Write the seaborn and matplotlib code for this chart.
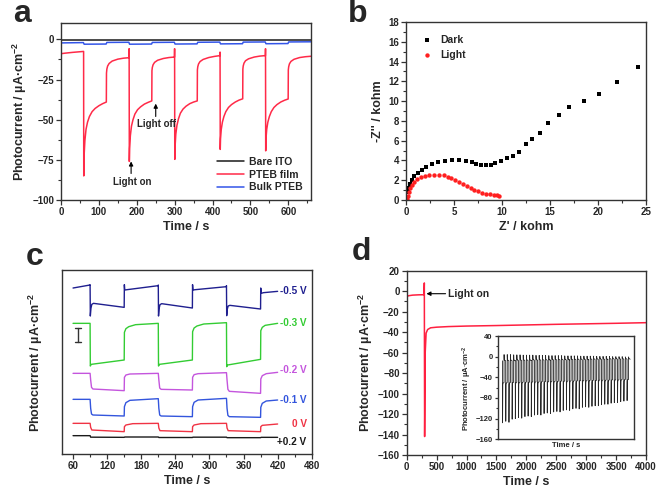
import matplotlib
matplotlib.use("Agg")
import matplotlib.pyplot as plt
import seaborn as sns
import pandas as pd
from matplotlib.ticker import MultipleLocator, NullLocator

# ---------------- data: panel a (photocurrent vs time) ----------------
a_ito = [(0, -0.3), (660, -0.3)]
a_bulk = [(0, -2.2), (59, -2.0), (61, -3.0), (119, -2.9), (121, -1.9), (179, -1.8),
          (181, -3.0), (239, -2.9), (241, -1.9), (299, -1.8), (301, -2.9), (359, -2.8),
          (361, -1.8), (419, -1.7), (421, -2.8), (479, -2.7), (481, -1.7), (539, -1.6),
          (541, -2.7), (599, -2.6), (601, -1.6), (660, -1.5)]
a_film = [
    (0, -8.9), (10, -8.6), (30, -8.1), (59.6, -7.5),
    (60, -85), (61, -72), (63, -63), (66, -56), (70, -51.5), (75, -48), (82, -45),
    (90, -43), (100, -41.3), (110, -40), (119.6, -39),
    (120, -21), (121, -18.5), (123, -16.6), (127, -15), (135, -13.5), (150, -12.3),
    (165, -11.7), (179.5, -11.4),
    (179.8, -5.8), (180.3, -76), (181, -68), (183, -60), (186, -54), (190, -50),
    (195, -46.5), (202, -43.8), (210, -42), (220, -40.3), (230, -39.2), (239.6, -38.3),
    (240, -19.5), (241, -17.5), (243, -15.8), (247, -14.3), (255, -13), (270, -11.9),
    (285, -11.3), (299.5, -11),
    (299.8, -5.8), (300.3, -74.7), (301, -67), (303, -59), (306, -53.5), (310, -49.5),
    (315, -46), (322, -43.4), (330, -41.6), (340, -40), (350, -39), (359.6, -38.3),
    (360, -19), (361, -17), (363, -15.3), (367, -13.8), (375, -12.5), (390, -11.3),
    (405, -10.6), (419.5, -10.1),
    (419.8, -7.9), (420.3, -68.5), (421, -62), (423, -56), (426, -51.5), (430, -48),
    (435, -45), (442, -42.4), (450, -40.6), (460, -39), (470, -37.8), (479.6, -37),
    (480, -18.5), (481, -16.5), (483, -14.8), (487, -13.3), (495, -12.1), (510, -11),
    (525, -10.4), (539.5, -10.1),
    (539.8, -5.8), (540.3, -69.4), (541, -62), (543, -56), (546, -51.5), (550, -48),
    (555, -45), (562, -42.4), (570, -40.6), (580, -39), (590, -37.9), (599.6, -37.1),
    (600, -19), (601, -17), (603, -15.2), (607, -13.7), (615, -12.4), (630, -11.3),
    (645, -10.8), (660, -10.5),
]
a_labels = ["Bare ITO", "PTEB film", "Bulk PTEB"]

# ---------------- data: panel b (Nyquist plot) ----------------
b_dark_x = [0.1, 0.15, 0.25, 0.4, 0.6, 0.85, 1.2, 1.6, 2.1, 2.7, 3.3, 4.0, 4.8, 5.5,
            6.2, 6.8, 7.3, 7.8, 8.3, 8.8, 9.3, 9.9, 10.5, 11.1, 11.8, 12.5, 13.1, 13.9,
            14.8, 15.9, 17.0, 18.5, 20.1, 22.0, 24.2]
b_dark_y = [0.3, 0.8, 1.2, 1.6, 2.0, 2.4, 2.75, 3.05, 3.35, 3.6, 3.8, 3.95, 4.05, 4.05,
            3.95, 3.8, 3.65, 3.55, 3.5, 3.55, 3.7, 3.9, 4.2, 4.5, 4.9, 5.65, 6.2, 6.8,
            7.75, 8.6, 9.45, 10.0, 10.7, 11.95, 13.5]
b_light_x = [0.1, 0.15, 0.25, 0.4, 0.6, 0.85, 1.15, 1.5, 1.9, 2.4, 2.9, 3.4, 3.9, 4.3,
             4.7, 5.1, 5.5, 5.9, 6.3, 6.7, 7.1, 7.5, 7.9, 8.3, 8.7, 9.1, 9.5, 9.7]
b_light_y = [0.1, 0.4, 0.8, 1.2, 1.55, 1.85, 2.1, 2.3, 2.45, 2.55, 2.58, 2.55, 2.48,
             2.35, 2.2, 2.0, 1.8, 1.6, 1.4, 1.2, 1.05, 0.9, 0.75, 0.65, 0.6, 0.55, 0.5, 0.45]

# ---------------- data: panel c (bias series, arbitrary offset units) ----------------
c_m05 = [(60, 48.6), (89.7, 49.5), (90, 49.6), (90.4, 40.2), (91.5, 42.5), (93, 43.7),
         (96, 44.0), (150, 42.8), (150.3, 49.6), (151, 48.0), (155, 48.1), (209.7, 49.3),
         (210, 49.5), (210.4, 40.2), (211.5, 42.5), (213, 43.6), (216, 43.9), (270, 42.6),
         (270.3, 49.6), (271, 48.0), (275, 48.1), (329.7, 49.0), (330, 49.3),
         (330.4, 40.3), (331.5, 42.3), (333, 43.2), (336, 43.4), (390, 42.3),
         (390.3, 48.6), (391, 47.0), (395, 47.2), (420, 47.6)]
c_m03 = [(60, 38.0), (90, 38.0), (90.4, 25.2), (92, 25.7), (150, 27.0), (150.4, 35.3),
         (153, 36.4), (158, 37.0), (170, 37.6), (210, 38.0), (210.4, 25.2), (212, 25.7),
         (270, 27.0), (270.4, 35.5), (273, 36.6), (278, 37.2), (290, 37.8), (330, 38.2),
         (330.4, 25.0), (332, 25.5), (390, 27.2), (390.4, 35.8), (393, 36.8), (398, 37.4),
         (420, 38.0)]
c_m02 = [(60, 23.0), (90, 23.0), (91, 21.0), (92.5, 18.8), (95, 18.3), (150, 17.8),
         (150.4, 21.8), (153, 22.5), (160, 22.8), (210, 23.0), (211, 21.0), (212.5, 18.6),
         (215, 18.2), (270, 18.0), (270.4, 21.8), (273, 22.6), (280, 22.9), (330, 23.2),
         (331, 21.0), (332.5, 18.2), (335, 17.6), (390, 17.0), (390.4, 21.3), (393, 22.3),
         (400, 22.9), (420, 23.3)]
c_m01 = [(60, 15.2), (90, 15.2), (91, 12.5), (92.5, 10.8), (95, 10.5), (150, 10.2),
         (150.4, 13.0), (153, 14.2), (160, 14.9), (210, 15.4), (211, 12.5), (212.5, 10.5),
         (215, 10.2), (270, 10.0), (270.4, 13.0), (273, 14.3), (280, 15.0), (330, 15.5),
         (331, 12.5), (332.5, 10.4), (335, 10.0), (390, 9.8), (390.4, 12.8), (393, 14.0),
         (400, 14.7), (420, 15.0)]
c_0 = [(60, 8.0), (90, 8.0), (91, 6.8), (93, 6.0), (150, 5.5), (150.4, 7.0), (153, 7.5),
       (165, 7.9), (210, 8.0), (211, 6.6), (213, 5.8), (270, 5.5), (270.4, 7.0), (273, 7.5),
       (285, 7.9), (330, 8.0), (331, 6.6), (333, 5.8), (390, 5.5), (390.4, 7.0), (393, 7.4),
       (420, 7.8)]
c_p02 = [(60, 4.3), (90, 4.3), (91, 3.85), (150, 3.8), (151, 3.9), (210, 3.9), (211, 3.75),
         (270, 3.75), (271, 3.85), (330, 3.85), (331, 3.7), (390, 3.7), (391, 3.8), (420, 3.8)]
c_labels = ["-0.5 V", "-0.3 V", "-0.2 V", "-0.1 V", "0 V", "+0.2 V"]
c_label_y = [47.7, 38.2, 24.0, 15.0, 7.8, 2.3]

# ---------------- data: panel d (long-term photocurrent) ----------------
d_main = [(0, -5.5), (30, -4.5), (100, -3.9), (200, -3.6), (290, -3.5), (295, 8), (300, -142),
          (310, -60), (325, -41), (350, -37.5), (400, -35.8), (500, -35.2), (700, -34.6),
          (1000, -34.1), (1500, -33.6), (2000, -33.0), (2500, -32.4), (3000, -31.9),
          (3500, -31.4), (4000, -30.8)]
# inset: one entry per light on/off cycle
d_in_on_spike = [-128, -125, -127, -121, -120, -118, -119, -116, -115, -116, -113, -112,
                 -113, -110, -109, -110, -107, -106, -107, -104, -103, -104, -101, -100,
                 -101, -98, -97, -98, -96, -95, -95, -93, -92, -92, -90, -89, -89, -87, -86, -85]
d_in_plateau = [-50, -50, -50, -49.5, -49.5, -49.5, -49, -49, -49, -48.5, -48.5, -48.5,
                -48, -48, -48, -47.5, -47.5, -47.5, -47, -47, -47, -46.5, -46.5, -46.5,
                -46, -46, -46, -45.5, -45.5, -45.5, -45, -45, -45, -45, -44.5, -44.5,
                -44.5, -44, -44, -44]
d_in_off_spike = [4, 4, 4, 3.5, 3.5, 3.5, 3, 3, 3, 3, 2.5, 2.5, 2.5, 2.5, 2, 2, 2, 2, 2,
                  1.5, 1.5, 1.5, 1.5, 1.5, 1, 1, 1, 1, 1, 0.5, 0.5, 0.5, 0.5, 0.5, 0, 0,
                  0, 0, -0.5, -0.5]
d_in_dark = [-8, -8, -8, -8, -7.5, -7.5, -7.5, -7.5, -7.5, -7, -7, -7, -7, -7, -7, -6.5,
             -6.5, -6.5, -6.5, -6.5, -6.5, -6, -6, -6, -6, -6, -6, -5.5, -5.5, -5.5, -5.5,
             -5.5, -5.5, -5, -5, -5, -5, -5, -5, -5]

# ---------------- style ----------------
sns.set_style("ticks")
plt.rcParams["font.family"] = ["Liberation Sans", "DejaVu Sans"]
plt.rcParams["font.weight"] = "bold"
plt.rcParams["axes.labelweight"] = "bold"
plt.rcParams["mathtext.fontset"] = "custom"
plt.rcParams["mathtext.rm"] = "Liberation Sans:bold"
plt.rcParams["mathtext.bf"] = "Liberation Sans:bold"
plt.rcParams["mathtext.default"] = "rm"

FS_TICK = 7
FS_LAB = 9
YLAB = "Photocurrent / µA·cm$^{-2}$"
SPINE = "#333333"
ARROW = dict(arrowstyle="-|>", color="black", lw=0.8, mutation_scale=6,
             shrinkA=0, shrinkB=0)

fig = plt.figure(figsize=(6.59, 4.93), dpi=100)


def style_axes(ax, fs=FS_TICK):
    for s in ax.spines.values():
        s.set_linewidth(1.0)
        s.set_color(SPINE)
        s.set_visible(True)
    ax.tick_params(which="major", direction="out", length=3.5, width=0.9,
                   labelsize=fs, pad=1.5, color=SPINE)
    ax.tick_params(which="minor", direction="out", length=2, width=0.8, color=SPINE)


def to_df(pairs):
    return pd.DataFrame(pairs, columns=["t", "y"])


# ---- panel a
axa = fig.add_axes([0.0926, 0.5943, 0.3794, 0.3584])
for pairs, col, lab in [(a_ito, "#1a1a1a", a_labels[0]), (a_film, "#ff2a48", a_labels[1]),
                        (a_bulk, "#3355e8", a_labels[2])]:
    sns.lineplot(data=to_df(pairs), x="t", y="y", ax=axa, color=col, lw=1.1,
                 sort=False, estimator=None, label=lab)
axa.set_xlim(0, 660)
axa.set_ylim(-100, 10)
axa.xaxis.set_major_locator(MultipleLocator(100))
axa.xaxis.set_minor_locator(MultipleLocator(50))
axa.yaxis.set_major_locator(MultipleLocator(25))
axa.yaxis.set_minor_locator(MultipleLocator(12.5))
axa.set_xlabel("Time / s", fontsize=FS_LAB, labelpad=3)
axa.set_ylabel(YLAB, fontsize=FS_LAB, labelpad=2)
style_axes(axa)
axa.legend(loc="lower right", frameon=False, fontsize=7.5, handlelength=2.6,
           handletextpad=0.5, labelspacing=0.25, borderaxespad=0.35)
axa.annotate("", xy=(185, -76), xytext=(185, -83.5), arrowprops=ARROW)
axa.text(188, -89, "Light on", ha="center", va="center", fontsize=7, fontweight="bold")
axa.annotate("", xy=(250, -40), xytext=(250, -48), arrowprops=ARROW)
axa.text(252, -52.5, "Light off", ha="center", va="center", fontsize=7, fontweight="bold")

# ---- panel b
axb = fig.add_axes([0.6166, 0.5943, 0.3637, 0.361])
sns.scatterplot(x=b_dark_x, y=b_dark_y, ax=axb, marker="s", color="black", s=11,
                linewidth=0, label="Dark")
sns.scatterplot(x=b_light_x, y=b_light_y, ax=axb, marker="o", color="#ff2020", s=10,
                linewidth=0, label="Light")
axb.set_xlim(0, 25)
axb.set_ylim(0, 18)
axb.xaxis.set_major_locator(MultipleLocator(5))
axb.xaxis.set_minor_locator(MultipleLocator(2.5))
axb.yaxis.set_major_locator(MultipleLocator(2))
axb.yaxis.set_minor_locator(MultipleLocator(1))
axb.set_xlabel("Z' / kohm", fontsize=FS_LAB, labelpad=3)
axb.set_ylabel("-Z'' / kohm", fontsize=FS_LAB, labelpad=3)
style_axes(axb)
axb.legend(loc="upper left", frameon=False, fontsize=7.5, handletextpad=0.6,
           labelspacing=0.5, borderaxespad=0.8, markerscale=1.0, handlelength=1.5)

# ---- panel c
axc = fig.add_axes([0.0936, 0.0791, 0.3794, 0.3732])
c_series = [c_m05, c_m03, c_m02, c_m01, c_0, c_p02]
c_colors = ["#1f1f8f", "#33cc33", "#c455dd", "#3355dd", "#f03344", "#1a1a1a"]
for pairs, col in zip(c_series, c_colors):
    sns.lineplot(data=to_df(pairs), x="t", y="y", ax=axc, color=col, lw=1.0,
                 sort=False, estimator=None)
for lab, yy, col in zip(c_labels, c_label_y, c_colors):
    axc.text(471, yy, lab, ha="right", va="center", color=col, fontsize=7.2,
             fontweight="bold")
# scale bar
axc.plot([68.8, 68.8], [32.5, 36.5], color="#333333", lw=1.0)
axc.plot([63.5, 74], [36.5, 36.5], color="#333333", lw=1.0)
axc.plot([63.5, 74], [32.5, 32.5], color="#333333", lw=1.0)
axc.set_xlim(40, 480)
axc.set_ylim(-1.2, 54)
axc.xaxis.set_major_locator(MultipleLocator(60))
axc.xaxis.set_minor_locator(MultipleLocator(30))
axc.yaxis.set_major_locator(NullLocator())
axc.set_xlabel("Time / s", fontsize=FS_LAB, labelpad=3)
axc.set_ylabel(YLAB, fontsize=FS_LAB, labelpad=12)
style_axes(axc)

# ---- panel d
axd = fig.add_axes([0.6171, 0.0771, 0.3632, 0.3739])
sns.lineplot(data=to_df(d_main), x="t", y="y", ax=axd, color="#ff2040", lw=1.1,
             sort=False, estimator=None)
axd.set_xlim(0, 4000)
axd.set_ylim(-160, 20)
axd.xaxis.set_major_locator(MultipleLocator(500))
axd.xaxis.set_minor_locator(MultipleLocator(250))
axd.yaxis.set_major_locator(MultipleLocator(20))
axd.yaxis.set_minor_locator(MultipleLocator(10))
axd.set_xlabel("Time / s", fontsize=FS_LAB, labelpad=3)
axd.set_ylabel(YLAB, fontsize=FS_LAB, labelpad=2)
style_axes(axd)
axd.annotate("", xy=(330, -2.5), xytext=(650, -2.5), arrowprops=ARROW)
axd.text(690, -2.5, "Light on", ha="left", va="center", fontsize=7.5, fontweight="bold")

# inset
axi = fig.add_axes([0.7562, 0.1089, 0.2059, 0.2095])
in_t, in_y = [0.0], [d_in_dark[0]]
for i in range(len(d_in_on_spike)):
    in_t += [i, i + 0.03, i + 0.1, i + 0.2, i + 0.48, i + 0.5, i + 0.55, i + 0.98]
    in_y += [d_in_dark[i], d_in_on_spike[i], d_in_plateau[i] - 4, d_in_plateau[i] - 1,
             d_in_plateau[i], d_in_off_spike[i], d_in_dark[i] + 2, d_in_dark[i]]
sns.lineplot(x=in_t, y=in_y, ax=axi, color="#262626", lw=0.6, sort=False, estimator=None)
axi.set_xlim(-1.3, len(d_in_on_spike) + 1.2)
axi.set_ylim(-160, 40)
axi.yaxis.set_major_locator(MultipleLocator(40))
axi.yaxis.set_minor_locator(MultipleLocator(20))
axi.xaxis.set_major_locator(NullLocator())
axi.set_xlabel("Time / s", fontsize=5.5, labelpad=2)
axi.set_ylabel(YLAB, fontsize=5.5, labelpad=1)
style_axes(axi, fs=5.5)
axi.tick_params(which="major", length=2.5)
axi.tick_params(which="minor", length=1.5)

# panel letters
for lab, x, y in [("a", 13, 22), ("b", 348, 22), ("c", 26, 265), ("d", 352, 260)]:
    fig.text(x / 659, 1 - y / 493, lab, fontsize=23, fontweight="bold", ha="left",
             va="baseline")

fig.savefig("out.png", dpi=100)
